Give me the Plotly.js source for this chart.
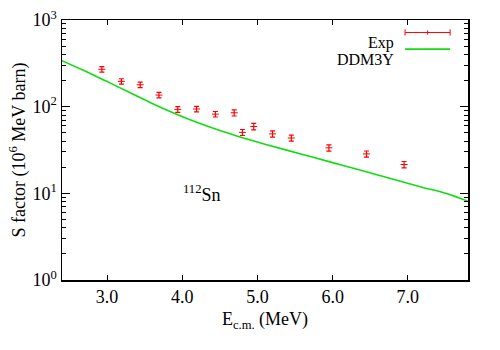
<!DOCTYPE html>
<html>
<head>
<meta charset="utf-8">
<script src="https://cdn.plot.ly/plotly-3.0.1.min.js"></script>
<style>
  body { margin: 0; background: #fff; }
  #chart { width: 500px; height: 350px; }
</style>
</head>
<body>
<div id="chart"></div>
<script>
'use strict';

// experimental S factor, 112Sn
const expEnergy = [2.93, 3.19, 3.44, 3.69, 3.94, 4.19, 4.44, 4.69, 4.80, 4.95, 5.20, 5.45, 5.95, 6.45, 6.95];
const expS = [270, 196, 179, 136, 93, 94, 82, 85, 50.5, 59, 48.5, 43.5, 33.5, 28.5, 21.5];
const expErr = [20, 14, 13, 10, 7, 7, 6, 7, 4, 5, 4, 3.5, 2.8, 2.3, 1.8];

// DDM3Y calculation
const calcEnergy = [2.4, 2.7, 3.0, 3.3, 3.6, 3.9, 4.2, 4.5, 4.8, 5.1, 5.4, 5.7, 6.0, 6.3, 6.6, 6.9, 7.2, 7.5, 7.8];
const calcS = [340, 259, 195, 146, 109, 83.4, 65.5, 53, 43.9, 36.9, 31.3, 26.6, 22.6, 19.2, 16.3, 13.8, 11.7, 10.0, 8.1];

const yTickVals = [1, 10, 100, 1000];
const yTickText = ['10<sup>0</sup>', '10<sup>1</sup>', '10<sup>2</sup>', '10<sup>3</sup>'];
const xTickVals = [3, 4, 5, 6, 7];
const xTickText = ['3.0', '4.0', '5.0', '6.0', '7.0'];

const font = {family: '"Liberation Serif", "DejaVu Serif", serif', size: 18, color: '#000'};
const keyFont = Object.assign({}, font, {size: 16});
const red = '#ff0000';
const green = '#11dd11';

const expTrace = {
  x: expEnergy,
  y: expS,
  type: 'scatter',
  mode: 'markers',
  name: 'Exp',
  marker: {symbol: 'line-ew', size: 5, color: red, line: {color: red, width: 1}},
  error_y: {type: 'data', array: expErr, visible: true, color: red, thickness: 1.2, width: 2.5},
  showlegend: false
};

const calcTrace = {
  x: calcEnergy,
  y: calcS,
  type: 'scatter',
  mode: 'lines',
  name: 'DDM3Y',
  line: {color: green, width: 1.6, shape: 'spline', smoothing: 1},
  showlegend: false
};

const axisCommon = {
  showline: true,
  linecolor: '#000',
  linewidth: 1.5,
  mirror: 'allticks',
  ticks: 'inside',
  tickcolor: '#000',
  showgrid: false,
  zeroline: false,
  tickfont: font
};

const layout = {
  width: 500,
  height: 350,
  margin: {l: 62, r: 32, t: 20, b: 70},
  paper_bgcolor: '#fff',
  plot_bgcolor: '#fff',
  font: font,
  showlegend: false,
  xaxis: Object.assign({}, axisCommon, {
    range: [2.4, 7.8],
    tickvals: xTickVals,
    ticktext: xTickText,
    ticklen: 5,
    title: {text: 'E<sub>c.m.</sub> (MeV)', font: font, standoff: 6}
  }),
  yaxis: Object.assign({}, axisCommon, {
    type: 'log',
    range: [0, 3],
    tickvals: yTickVals,
    ticktext: yTickText,
    ticklen: 8,
    minor: {ticks: 'inside', ticklen: 4, tickcolor: '#000', dtick: 'D1', showgrid: false},
    title: {text: 'S factor (10<sup>6</sup> MeV barn)', font: font, standoff: 2}
  }),
  annotations: [
    {text: '<sup>112</sup>Sn', x: 4.26, y: 1.0, xref: 'x', yref: 'y', showarrow: false, font: font},
    {text: 'Exp', x: 0.822, y: 0.952, xref: 'paper', yref: 'paper', xanchor: 'right', showarrow: false, font: keyFont},
    {text: 'DDM3Y', x: 0.822, y: 0.888, xref: 'paper', yref: 'paper', xanchor: 'right', showarrow: false, font: keyFont}
  ],
  shapes: [
    // legend keys
    {type: 'line', xref: 'paper', yref: 'paper', x0: 0.845, x1: 0.956, y0: 0.952, y1: 0.952, line: {color: red, width: 1}},
    {type: 'line', xref: 'paper', yref: 'paper', x0: 0.845, x1: 0.845, y0: 0.940, y1: 0.964, line: {color: red, width: 1}},
    {type: 'line', xref: 'paper', yref: 'paper', x0: 0.956, x1: 0.956, y0: 0.940, y1: 0.964, line: {color: red, width: 1}},
    {type: 'line', xref: 'paper', yref: 'paper', x0: 0.9005, x1: 0.9005, y0: 0.944, y1: 0.960, line: {color: red, width: 1}},
    {type: 'line', xref: 'paper', yref: 'paper', x0: 0.845, x1: 0.956, y0: 0.888, y1: 0.888, line: {color: green, width: 1.6}}
  ]
};

Plotly.newPlot('chart', [calcTrace, expTrace], layout, {staticPlot: true});
</script>
</body>
</html>
